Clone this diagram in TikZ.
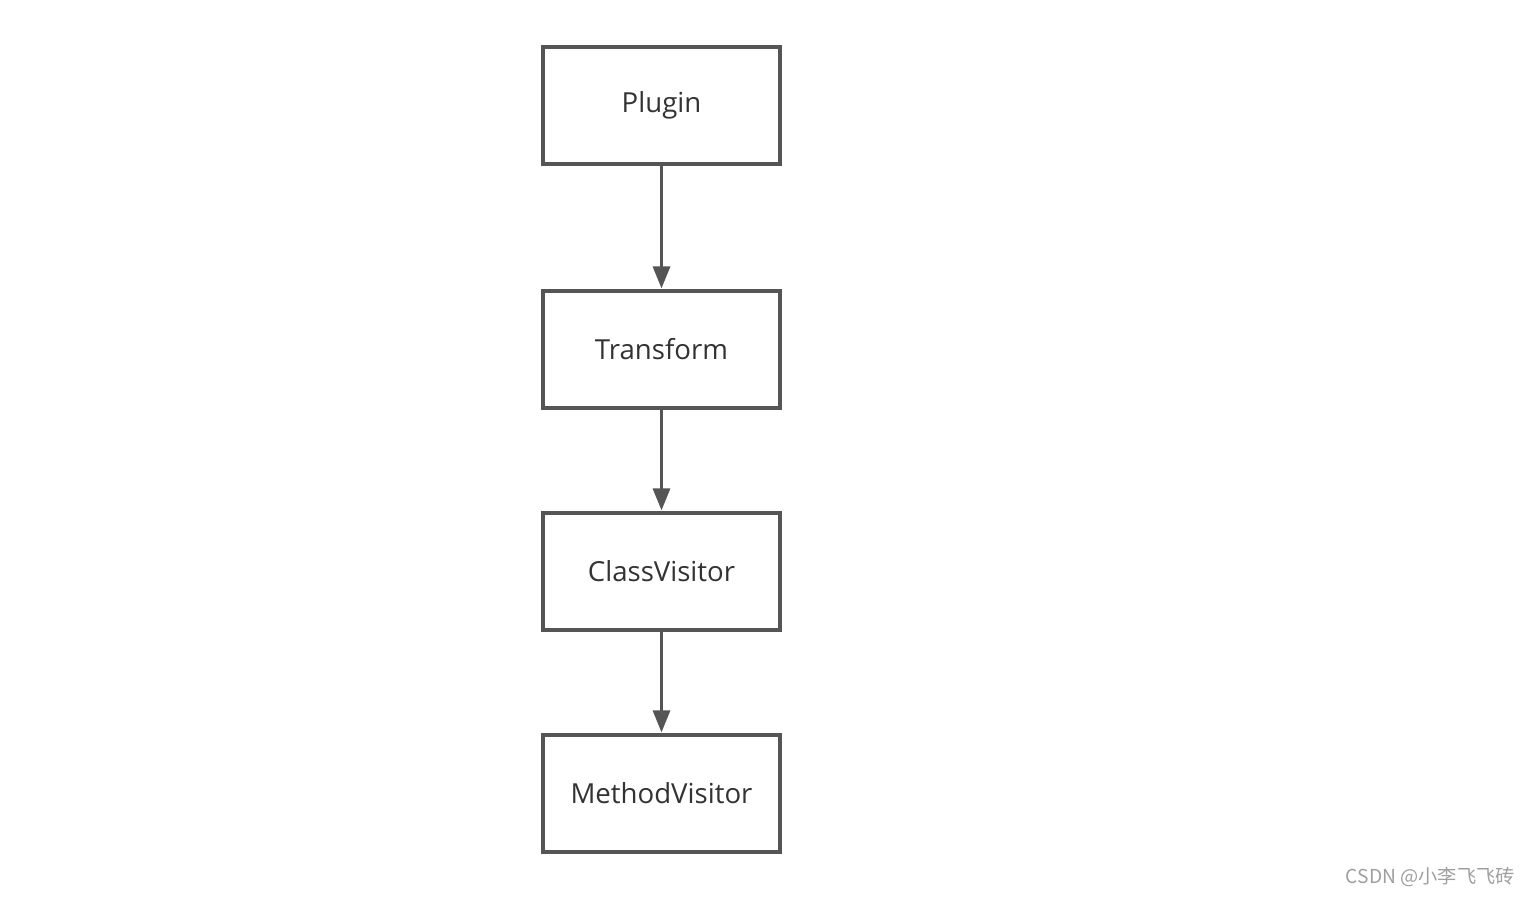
\documentclass[tikz,border=0pt]{standalone}
\usepackage{fontspec}
\setmainfont{Open Sans}
\newfontfamily\cjkfont{Noto Sans CJK SC}
\usetikzlibrary{arrows.meta}
\definecolor{edge}{HTML}{555555}
\definecolor{txt}{HTML}{333333}
\begin{document}
\begin{tikzpicture}[x=0.5pt,y=-0.5pt,
  box/.style={draw=edge,line width=1.6pt,fill=white,minimum width=118.5pt,minimum height=58.5pt,inner sep=0pt,text=txt,font=\fontsize{13.8}{16}\selectfont},
  flow/.style={draw=edge,line width=1.6pt,-{Triangle[length=11pt,width=8.5pt]},shorten >=0.5pt}]
\useasboundingbox (0,0) rectangle (1530,896);
\node[box] (plugin) at (661.5,105.5) {Plugin};
\node[box] (transform) at (661.5,349.5) {Transform};
\node[box] (classv) at (661.5,571.5) {ClassVisitor};
\node[box] (methodv) at (661.5,793.5) {MethodVisitor};
\draw[flow] (plugin) -- (transform);
\draw[flow] (transform) -- (classv);
\draw[flow] (classv) -- (methodv);
\node[anchor=east,text=gray!75,inner sep=0pt,font=\cjkfont\fontsize{9.6}{11}\selectfont] (wm) at (1515,877) {CSDN @小李飞飞砖};
\end{tikzpicture}
\end{document}
